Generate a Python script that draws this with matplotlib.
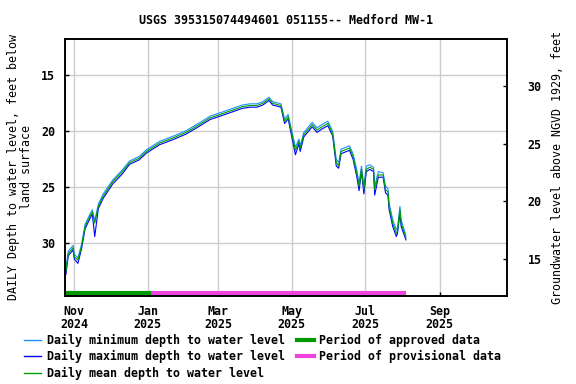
#!/usr/bin/env python3
"""Groundwater depth chart for USGS site 395315074494601 (Medford MW-1)"""
import datetime as dt
import matplotlib
matplotlib.use("Agg")
import matplotlib.pyplot as plt
import matplotlib.dates as mdates
from matplotlib.lines import Line2D

# daily values, depth below land surface (ft)
dates = ["2024-10-25", "2024-10-27", "2024-10-31", "2024-11-01", "2024-11-04",
         "2024-11-07", "2024-11-10", "2024-11-14", "2024-11-16", "2024-11-18",
         "2024-11-21", "2024-11-25", "2024-12-03", "2024-12-11", "2024-12-17",
         "2024-12-25", "2024-12-31", "2025-01-11", "2025-01-22", "2025-02-02",
         "2025-02-13", "2025-02-22", "2025-03-05", "2025-03-21", "2025-03-27",
         "2025-04-02", "2025-04-07", "2025-04-12", "2025-04-15", "2025-04-22",
         "2025-04-25", "2025-04-28", "2025-05-01", "2025-05-04", "2025-05-07",
         "2025-05-08", "2025-05-11", "2025-05-18", "2025-05-22", "2025-05-26",
         "2025-05-31", "2025-06-04", "2025-06-07", "2025-06-09", "2025-06-11",
         "2025-06-18", "2025-06-21", "2025-06-24", "2025-06-26", "2025-06-28",
         "2025-06-30", "2025-07-02", "2025-07-05", "2025-07-08", "2025-07-09",
         "2025-07-12", "2025-07-16", "2025-07-18", "2025-07-20", "2025-07-21",
         "2025-07-24", "2025-07-27", "2025-07-28", "2025-07-30", "2025-07-31",
         "2025-08-04"]
mean_depth = [32.5, 30.9, 30.4, 31.2, 31.5, 30.3, 28.5, 27.6, 27.2, 28.2,
              26.7, 25.8, 24.5, 23.6, 22.8, 22.4, 21.8, 21.05, 20.6, 20.1,
              19.4, 18.8, 18.4, 17.8, 17.7, 17.7, 17.5, 17.1, 17.5, 17.7,
              19.1, 18.7, 20.2, 21.7, 20.9, 21.5, 20.3, 19.4, 19.9, 19.6,
              19.3, 20.2, 22.8, 23.1, 21.8, 21.5, 22.25, 23.7, 24.9, 23.4,
              25.2, 23.4, 23.2, 23.4, 25.2, 23.9, 23.9, 25.2, 25.4, 26.7,
              28.2, 29.1, 28.9, 27.0, 28.2, 29.5]
min_depth = [32.3, 30.7, 30.2, 31.0, 31.3, 30.1, 28.3, 27.4, 27.0, 28.0,
             26.5, 25.6, 24.35, 23.45, 22.65, 22.25, 21.65, 20.9, 20.45, 19.95,
             19.25, 18.65, 18.25, 17.65, 17.55, 17.55, 17.35, 16.95, 17.35, 17.55,
             18.9, 18.5, 20.0, 21.4, 20.7, 21.3, 20.1, 19.2, 19.7, 19.4,
             19.1, 20.0, 22.5, 22.8, 21.6, 21.3, 22.0, 23.4, 24.6, 23.1,
             24.9, 23.1, 23.0, 23.2, 24.9, 23.6, 23.7, 24.9, 25.1, 26.4,
             27.9, 28.8, 28.6, 26.7, 27.9, 29.3]
max_depth = [32.8, 31.1, 30.6, 31.4, 31.8, 30.5, 28.7, 27.8, 27.4, 29.4,
             26.9, 26.0, 24.7, 23.8, 22.95, 22.55, 21.95, 21.2, 20.75, 20.25,
             19.55, 18.95, 18.55, 17.95, 17.85, 17.85, 17.65, 17.25, 17.65, 17.85,
             19.3, 18.9, 20.5, 22.1, 21.1, 21.8, 20.5, 19.6, 20.1, 19.8,
             19.5, 20.4, 23.1, 23.3, 22.0, 21.7, 22.5, 24.0, 25.3, 23.6,
             25.6, 23.6, 23.4, 23.6, 25.7, 24.1, 24.1, 25.5, 25.7, 27.0,
             28.5, 29.4, 29.1, 27.3, 28.5, 29.7]

approved_period = ["2024-10-24", "2025-01-04"]
provisional_period = ["2025-01-04", "2025-08-04"]

x_start = "2024-10-24"
x_end = "2025-10-27"
depth_lim = (34.68, 11.76)
elev_lim = (11.79, 34.08)
depth_ticks = [15, 20, 25, 30]
elev_ticks = [15, 20, 25, 30]

site_title = "USGS 395315074494601 051155-- Medford MW-1"


def to_dates(values):
    """Convert ISO strings to datetime objects"""
    return [dt.datetime.strptime(v, "%Y-%m-%d") for v in values]


plt.rcParams['font.family'] = ['DejaVu Sans Mono']
plt.rcParams['font.weight'] = 'bold'
plt.rcParams['font.size'] = 8.4

fig = plt.figure(figsize=(5.76, 3.84), dpi=100)
ax = fig.add_axes([0.1123, 0.23, 0.7677, 0.6684])

x = to_dates(dates)
c_min = '#1e90ff'
c_max = '#0000ff'
c_mean = '#00a000'
c_appr = '#009900'
c_prov = '#ee44dd'

ax.plot(x, min_depth, color=c_min, lw=0.8)
ax.plot(x, max_depth, color=c_max, lw=0.8)
ax.plot(x, mean_depth, color=c_mean, lw=0.8)

bar_y = 34.44
ax.plot(to_dates(approved_period), [bar_y, bar_y], color=c_appr, lw=3,
        solid_capstyle='butt')
ax.plot(to_dates(provisional_period), [bar_y, bar_y], color=c_prov, lw=3,
        solid_capstyle='butt')

ax.set_xlim(to_dates([x_start, x_end]))
ax.set_ylim(depth_lim)
ax.set_yticks(depth_ticks)
ax.xaxis.set_major_locator(mdates.MonthLocator(bymonth=[1, 3, 5, 7, 9, 11]))
ax.xaxis.set_major_formatter(mdates.DateFormatter("%b\n%Y"))
ax.grid(True, color='#cccccc', lw=1)
ax.set_axisbelow(True)
ax.tick_params(direction='in', length=3, width=1, pad=7)
for lab in ax.get_xticklabels():
    lab.set_linespacing(1.0)
for sp in ax.spines.values():
    sp.set_linewidth(1.2)

ax.set_ylabel("DAILY Depth to water level, feet below\nland surface",
              labelpad=6, linespacing=1.0)
ax.set_title(site_title, pad=11, fontsize=8.4, fontweight='bold')

ax2 = ax.twinx()
ax2.set_ylim(elev_lim)
ax2.set_yticks(elev_ticks)
ax2.tick_params(direction='in', length=3, width=1, pad=15)
ax2.set_ylabel("Groundwater level above NGVD 1929, feet", labelpad=7)
for sp in ax2.spines.values():
    sp.set_linewidth(1.2)

handles = [
    Line2D([], [], color=c_min, lw=1),
    Line2D([], [], color=c_max, lw=1),
    Line2D([], [], color=c_mean, lw=1),
    Line2D([], [], color=c_appr, lw=3),
    Line2D([], [], color=c_prov, lw=3),
]
labels = [
    "Daily minimum depth to water level",
    "Daily maximum depth to water level",
    "Daily mean depth to water level",
    "Period of approved data",
    "Period of provisional data",
]
fig.legend(handles, labels, loc='upper left', ncol=2,
           bbox_to_anchor=(0.042, 1 - 334 / 384), frameon=False,
           handlelength=1.45, handletextpad=0.5, columnspacing=1.0,
           labelspacing=0.28, borderaxespad=0, borderpad=0)

fig.savefig("out.png", dpi=100)
